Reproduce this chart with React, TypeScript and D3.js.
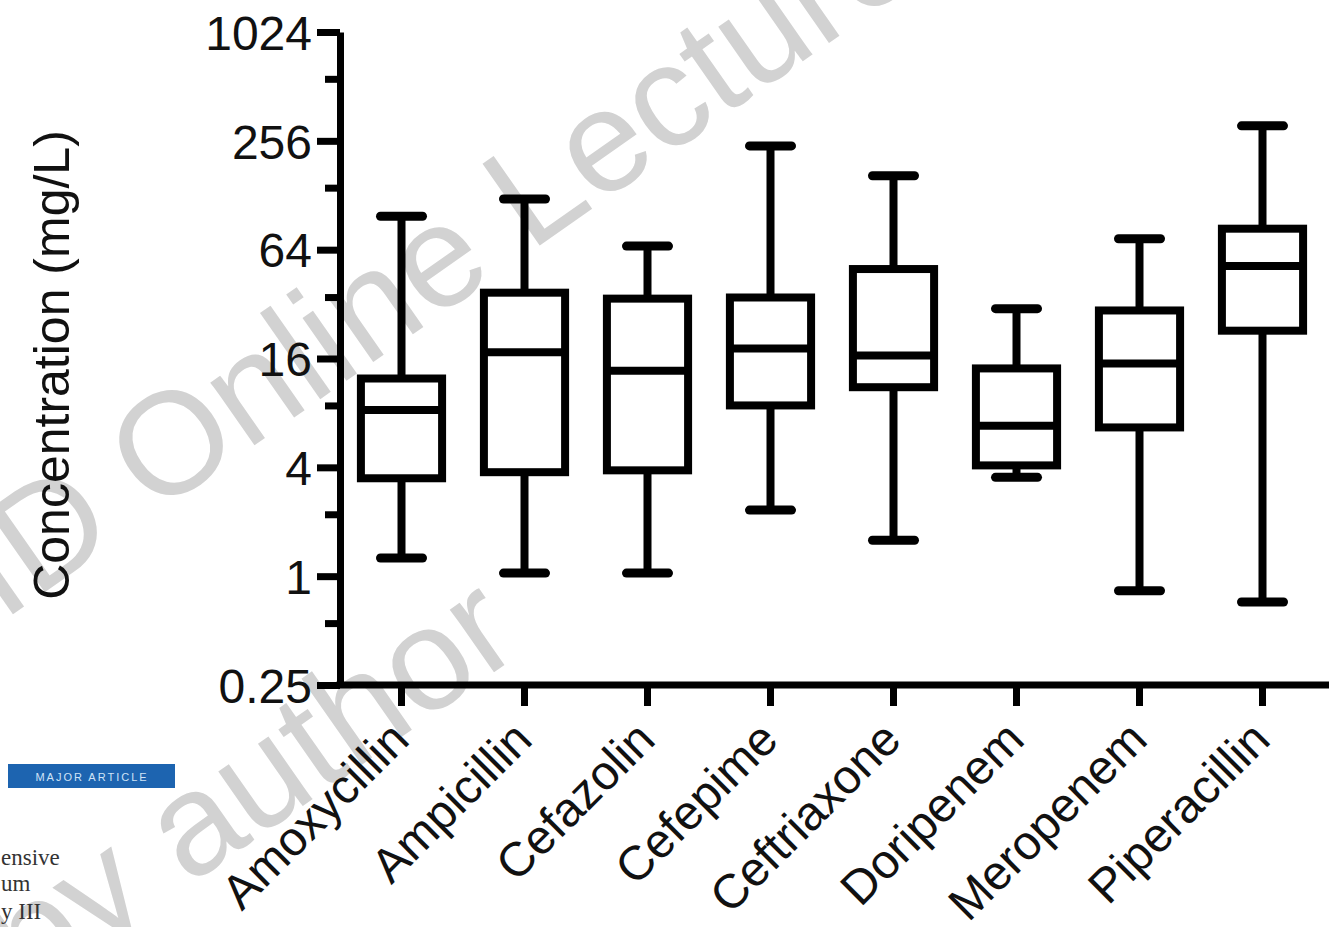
import React, { useRef, useEffect } from "react";
import * as d3 from "d3";

// ── Data ─────────────────────────────────────────────────────────────────────

const DRUGS = [
  "Amoxycillin",
  "Ampicillin",
  "Cefazolin",
  "Cefepime",
  "Ceftriaxone",
  "Doripenem",
  "Meropenem",
  "Piperacillin",
];

const WHISKER_LOW = [1.26, 1.04, 1.04, 2.32, 1.58, 3.52, 0.83, 0.72];
const Q1 = [3.48, 3.76, 3.85, 8.8, 11.1, 4.1, 6.65, 22.8];
const MEDIAN = [8.3, 17.3, 13.7, 18.2, 16.6, 6.8, 15.0, 52];
const Q3 = [12.4, 37, 34.3, 34.8, 50, 14.1, 29.5, 83.6];
const WHISKER_HIGH = [98, 122, 67, 240, 164, 30.2, 73.5, 310];

const Y_TICKS = [0.25, 1, 4, 16, 64, 256, 1024];
const Y_TICK_LABELS = ["0.25", "1", "4", "16", "64", "256", "1024"];
const Y_MINOR_TICKS = [0.55, 2.2, 8.8, 35, 141, 564];

const Y_TITLE = "Concentration (mg/L)";

// ── Layout ───────────────────────────────────────────────────────────────────

const W = 1329;
const H = 927;
const FONT = "'Liberation Sans', Arial, Helvetica, sans-serif";
const LW = 8;

export default function App() {
  const svgRef = useRef<SVGSVGElement>(null);

  useEffect(() => {
    if (!svgRef.current) return;
    const svg = d3.select(svgRef.current);
    svg.selectAll("*").remove();

    svg.append("rect").attr("width", W).attr("height", H).attr("fill", "#ffffff");

    // faint watermark + scan leftovers, behind the plot
    const wm = svg.append("g").attr("fill", "#d2d2d2").attr("font-family", FONT);
    wm.append("text")
      .attr("transform", "translate(2,622) rotate(-35)")
      .attr("font-size", 145)
      .text("ID Online Lecture");
    wm.append("text")
      .attr("transform", "translate(30,997) rotate(-35)")
      .attr("font-size", 145)
      .text("by author");

    svg.append("rect")
      .attr("x", 8).attr("y", 764).attr("width", 167).attr("height", 24)
      .attr("fill", "#1d64b0");
    svg.append("text")
      .attr("x", 92).attr("y", 781)
      .attr("text-anchor", "middle")
      .attr("font-family", FONT).attr("font-size", 11).attr("letter-spacing", 2)
      .attr("fill", "#cfe3f7")
      .text("MAJOR ARTICLE");
    const scrap = svg.append("g")
      .attr("font-family", "'Liberation Serif', 'Times New Roman', serif")
      .attr("font-size", 23).attr("fill", "#333");
    scrap.append("text").attr("x", 1).attr("y", 865).text("ensive");
    scrap.append("text").attr("x", 1).attr("y", 891).text("um");
    scrap.append("text").attr("x", 1).attr("y", 919).text("y III");

    // Scales
    const x = d3.scaleBand<string>()
      .domain(DRUGS)
      .range([340, 1324])
      .paddingInner(0.34)
      .paddingOuter(0.17);

    const y = d3.scaleLog().base(2).domain([0.25, 1024]).range([685, 32]);

    const bw = x.bandwidth();
    const capW = 42;

    // Boxes
    const g = svg.append("g").attr("stroke", "#000").attr("fill", "none");
    DRUGS.forEach((d, i) => {
      const x0 = x(d)!;
      const cx = x0 + bw / 2;
      g.append("line")
        .attr("x1", cx).attr("x2", cx)
        .attr("y1", y(WHISKER_HIGH[i])).attr("y2", y(Q3[i]))
        .attr("stroke-width", LW);
      g.append("line")
        .attr("x1", cx).attr("x2", cx)
        .attr("y1", y(Q1[i])).attr("y2", y(WHISKER_LOW[i]))
        .attr("stroke-width", LW);
      [WHISKER_HIGH[i], WHISKER_LOW[i]].forEach((v) => {
        g.append("line")
          .attr("x1", cx - capW / 2).attr("x2", cx + capW / 2)
          .attr("y1", y(v)).attr("y2", y(v))
          .attr("stroke-width", 9)
          .attr("stroke-linecap", "round");
      });
      g.append("rect")
        .attr("x", x0).attr("width", bw)
        .attr("y", y(Q3[i])).attr("height", y(Q1[i]) - y(Q3[i]))
        .attr("fill", "#fff")
        .attr("stroke-width", LW);
      g.append("line")
        .attr("x1", x0).attr("x2", x0 + bw)
        .attr("y1", y(MEDIAN[i])).attr("y2", y(MEDIAN[i]))
        .attr("stroke-width", LW);
    });

    // Y axis
    svg.append("g")
      .attr("transform", "translate(340,0)")
      .call(
        d3.axisLeft(y)
          .tickValues(Y_TICKS)
          .tickSize(23)
          .tickSizeOuter(0)
          .tickPadding(5)
          .tickFormat((_, i) => Y_TICK_LABELS[i])
      )
      .call((axis) => {
        axis.select(".domain").attr("stroke", "#000").attr("stroke-width", 7);
        axis.selectAll(".tick line").attr("stroke", "#000").attr("stroke-width", 7);
        axis.selectAll(".tick text")
          .attr("fill", "#111")
          .attr("font-size", 48)
          .attr("font-family", FONT)
          .attr("dy", "0.36em");
      });

    svg.append("g")
      .attr("transform", "translate(340,0)")
      .call(d3.axisLeft(y).tickValues(Y_MINOR_TICKS).tickSize(15).tickFormat(() => ""))
      .call((axis) => {
        axis.select(".domain").remove();
        axis.selectAll(".tick line").attr("stroke", "#000").attr("stroke-width", 7);
      });

    // X axis
    svg.append("g")
      .attr("transform", "translate(0,685)")
      .call(d3.axisBottom(x).tickSize(21).tickSizeOuter(0).tickFormat(() => ""))
      .call((axis) => {
        axis.select(".domain").remove();
        axis.selectAll(".tick line").attr("stroke", "#000").attr("stroke-width", 7);
      });
    svg.append("line")
      .attr("x1", 336.5).attr("x2", W)
      .attr("y1", 685).attr("y2", 685)
      .attr("stroke", "#000").attr("stroke-width", 7);

    svg.append("g")
      .selectAll("text")
      .data(DRUGS)
      .join("text")
      .attr("transform", (d) => `translate(${x(d)! + bw / 2 + 10},742) rotate(-45)`)
      .attr("text-anchor", "end")
      .attr("font-family", FONT)
      .attr("font-size", 48)
      .attr("fill", "#111")
      .text((d) => d);

    // Y title
    svg.append("text")
      .attr("transform", "translate(69,365) rotate(-90)")
      .attr("text-anchor", "middle")
      .attr("font-family", FONT)
      .attr("font-size", 50)
      .attr("fill", "#111")
      .text(Y_TITLE);
  }, []);

  return (
    <svg
      ref={svgRef}
      width={W}
      height={H}
      style={{ position: "absolute", left: 0, top: 0, display: "block" }}
    />
  );
}
